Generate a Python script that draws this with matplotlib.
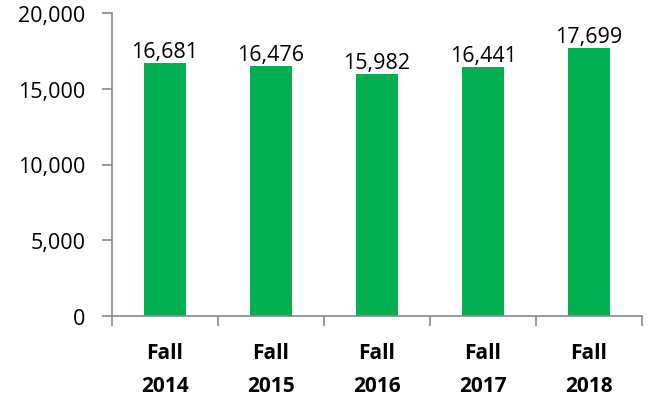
import matplotlib
matplotlib.use("Agg")
import matplotlib.pyplot as plt
from matplotlib.ticker import FuncFormatter, FixedLocator

categories = ["Fall\n2014", "Fall\n2015", "Fall\n2016", "Fall\n2017", "Fall\n2018"]
values = [16681, 16476, 15982, 16441, 17699]
yticks = [0, 5000, 10000, 15000, 20000]

plt.rcParams['font.family'] = ['Open Sans', 'DejaVu Sans']

fig = plt.figure(figsize=(6.5, 4.02), dpi=100)
ax = fig.add_axes([112/650, 1 - 317/402, (642-112)/650, (317-14)/402])

x = list(range(len(values)))
bars = ax.bar(x, values, width=0.4, color='#00B050', zorder=2)
for xi, v in zip(x, values):
    ax.text(xi, v + 60, f"{v:,}", ha='center', va='bottom', fontsize=15.5, color='#000000')

ax.set_xlim(-0.5, len(values) - 0.5)
ax.set_ylim(0, 20000)
ax.set_yticks(yticks)
ax.yaxis.set_major_formatter(FuncFormatter(lambda v, p: f"{int(v):,}"))
ax.tick_params(axis='y', labelsize=15.5, length=7, width=1.2, color='#888888', pad=12)

ax.set_xticks(x)
ax.set_xticklabels(categories, fontsize=15, fontweight='bold', linespacing=1.7)
ax.tick_params(axis='x', which='major', length=0, pad=19)
ax.xaxis.set_minor_locator(FixedLocator([i - 0.5 for i in range(len(values) + 1)]))
ax.tick_params(axis='x', which='minor', length=7, width=1.2, color='#888888', direction='out')

for s in ['top', 'right']:
    ax.spines[s].set_visible(False)
for s in ['left', 'bottom']:
    ax.spines[s].set_color('#888888')
    ax.spines[s].set_linewidth(1.2)

fig.savefig('out.png', dpi=100)
